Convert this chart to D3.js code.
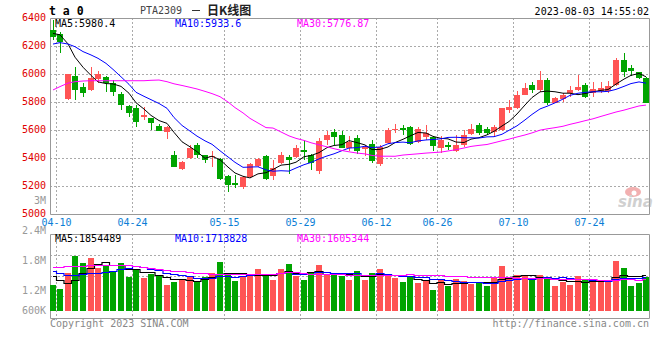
<!DOCTYPE html>
<html>
<head>
<meta charset="utf-8">
<script src="https://cdn.jsdelivr.net/npm/d3@7/dist/d3.min.js"></script>
<style>
body { margin: 0; background: #fff; }
text { font-family: "DejaVu Sans Mono", monospace; font-size: 10px; }
</style>
</head>
<body>
<div id="container"></div>
<script>
/* DATA */
const tickDates = ["04-10", "04-24", "05-15", "05-29", "06-12", "06-26", "07-10", "07-24"];
const tickIdx = [0, 10, 22, 32, 42, 50, 60, 70];

const open = [6314,6286,5819,5986,5909,5886,5962,5981,5938,5857,5771,5755,5696,5683,5628,5588,
  5421,5319,5398,5493,5421,5405,5393,5271,5219,5195,5267,5343,5414,5274,
  5367,5409,5405,5457,5421,5309,
  5528,5588,5564,5474,5540,5464,5500,5357,5509,5600,5612,5624,5516,5548,5548,5469,5493,5452,5493,5571,
  5636,5605,5588,5600,5743,5755,5850,5921,5886,5957,5795,5819,5867,5886,5921,5867,5881,5881,5921,6100,6040,6012,5974];
const high = [6386,6300,6000,6052,5933,6052,6024,5985,5957,5874,5779,5779,5762,5688,5640,5630,
  5452,5380,5493,5505,5425,5452,5400,5280,5279,5275,5365,5400,5420,5386,
  5445,5421,5493,5528,5430,5540,
  5595,5607,5595,5557,5564,5493,5528,5490,5612,5643,5636,5628,5624,5636,5557,5557,5517,5564,5600,5643,
  5652,5624,5636,5760,5814,5881,5938,5945,6021,5969,5838,5867,5917,5993,5933,5940,5945,5952,6112,6148,6064,6017,5980];
const low = [6243,6148,5815,5814,5833,5880,5933,5874,5843,5743,5695,5624,5671,5600,5590,5533,
  5333,5315,5395,5398,5362,5338,5240,5160,5183,5180,5260,5335,5240,5243,
  5360,5286,5400,5386,5314,5286,
  5493,5493,5470,5452,5429,5414,5362,5343,5500,5576,5564,5490,5510,5528,5452,5433,5457,5445,5481,5565,
  5564,5564,5553,5595,5724,5752,5848,5862,5874,5779,5790,5802,5838,5881,5826,5838,5862,5867,5914,5981,5986,5962,5790];
const close = [6262,6229,5998,5886,5867,5969,5998,5938,5874,5779,5724,5660,5710,5648,5595,5624,
  5338,5374,5469,5421,5386,5414,5248,5207,5210,5267,5357,5393,5248,5326,
  5421,5386,5469,5445,5367,5524,
  5564,5548,5474,5512,5452,5481,5381,5481,5600,5607,5600,5498,5607,5581,5486,5529,5481,5493,5564,5607,
  5581,5581,5619,5755,5767,5850,5902,5886,5957,5795,5826,5850,5886,5905,5833,5890,5902,5914,6100,6012,6024,5969,5795];
const volume = [1350000,1140000,1970000,2860000,2510000,2750000,2230000,2370000,2030000,2510000,
  1770000,2150000,1710000,1920000,1830000,1350000,1520000,1660000,1800000,1560000,
  1770000,1970000,2550000,1970000,1570000,1750000,1890000,2180000,1920000,1630000,
  2180000,2440000,1800000,1630000,2030000,2390000,1890000,1890000,1800000,
  1630000,2100000,1630000,1970000,2200000,1840000,1710000,1510000,1750000,1450000,
  1540000,1110000,1630000,1320000,1680000,1580000,1420000,1450000,1320000,1710000,
  2350000,1710000,1890000,1800000,1630000,1890000,1660000,1320000,1490000,1370000,
  1840000,1630000,1540000,1490000,1540000,2610000,2230000,1320000,1450000,1770000];

// moving averages before enough days are shown
const ma5Head = [6290, 6280, 6215, 6120];
const ma10Head = [6214, 6224, 6214, 6195, 6160, 6136, 6112, 6076, 6033];
const ma30Head = [5886, 5910, 5935, 5945, 5950, 5952, 5952, 5952, 5952, 5952, 5952, 5952, 5952, 5955, 5957,
  5945, 5930, 5918, 5905, 5893, 5876, 5860, 5838, 5800, 5760, 5722, 5683, 5650, 5617];
const volMa5Head = [1800000, 1620000, 1450000, 1620000];
const volMa10Head = [2060000, 1950000, 1890000, 1890000, 1900000, 1950000, 2000000, 2050000, 2100000];
const volMa30Head = [2300000, 2310000, 2320000, 2330000, 2350000, 2370000, 2390000, 2390000, 2390000, 2390000,
  2370000, 2330000, 2270000, 2220000, 2170000, 2130000, 2100000, 2070000, 2040000, 2000000,
  1980000, 1930000, 1920000, 1920000, 1910000, 1910000, 1900000, 1900000, 1900000];

const priceTicks = [6400, 6200, 6000, 5800, 5600, 5400, 5200, 5000];
const volLabels = [["3M", 204], ["2.4M", 234], ["1.8M", 263.5], ["1.2M", 294], ["600K", 314]];
const mainLegend = ["MA5:5980.4", "MA10:5933.6", "MA30:5776.87"];
const volLegend = ["MA5:1854489", "MA10:1713828", "MA30:1605344"];

/* CONSTANTS */
const width = 660, height = 360;
const left = 50, right = 649.5;
const main = { top: 18, bottom: 214 };
const vol = { top: 234, base: 311, bottom: 318 };
const RED = "#ff5454", GREEN = "#00a400", GRID = "#aaa", AXIS = "#999";
const maColors = ["#000", "#0000ff", "#ff00ff"];

function movAvg(vals, n, head) {
  return vals.map((v, i) => i < n - 1 ? head[i] : d3.mean(vals.slice(i - n + 1, i + 1)));
}
const ma5 = movAvg(close, 5, ma5Head), ma10 = movAvg(close, 10, ma10Head), ma30 = movAvg(close, 30, ma30Head);
const vma5 = movAvg(volume, 5, volMa5Head), vma10 = movAvg(volume, 10, volMa10Head), vma30 = movAvg(volume, 30, volMa30Head);

/* SCALES */
const idx = d3.range(close.length);
const xScale = d3.scaleBand().domain(idx).range([49.5, 649.5]).paddingInner(0.2);
const bw = 6;
const cx = k => Math.round(xScale(k)) + bw / 2;
const gx = k => Math.round(xScale(k) + xScale.step() - (xScale.step() - xScale.bandwidth()) / 2) + 0.5;
const yScale = d3.scaleLinear().domain([5000, 6400]).range([main.bottom, main.top]);
const vScale = d3.scaleLinear().domain([0, 4000000]).range([vol.base, vol.top]);

/* SVG */
const svg = d3.select("#container").append("svg")
  .attr("width", width).attr("height", height);

// horizontal grid
svg.append("g").selectAll("line")
  .data(priceTicks.filter(p => p > 5000 && p < 6400))
  .join("line")
  .attr("x1", left).attr("x2", right)
  .attr("y1", d => Math.round(yScale(d)) + 0.5).attr("y2", d => Math.round(yScale(d)) + 0.5)
  .attr("stroke", GRID).attr("stroke-dasharray", "2,2");

svg.append("g").selectAll("line")
  .data([255, 275.5, 295.5])
  .join("line")
  .attr("x1", left).attr("x2", right)
  .attr("y1", d => Math.round(d) + 0.5).attr("y2", d => Math.round(d) + 0.5)
  .attr("stroke", GRID).attr("stroke-dasharray", "2,2");

// vertical grid through both panels
const vg = svg.append("g");
vg.selectAll(".vm").data(tickIdx).join("line").attr("class", "vm")
  .attr("x1", gx).attr("x2", gx).attr("y1", main.top).attr("y2", main.bottom)
  .attr("stroke", GRID).attr("stroke-dasharray", "2,2");
vg.selectAll(".vv").data(tickIdx).join("line").attr("class", "vv")
  .attr("x1", gx).attr("x2", gx).attr("y1", vol.top).attr("y2", vol.bottom + 4)
  .attr("stroke", GRID).attr("stroke-dasharray", "2,2");

// frames
const frame = svg.append("g").attr("fill", "none").attr("stroke", AXIS);
frame.append("path").attr("d", `M${left + 0.5},${main.top + 0.5}V${main.bottom + 0.5}H${right}V${main.top + 0.5}Z`);
frame.append("path").attr("d", `M${left + 0.5},${vol.top + 0.5}H${right}V${vol.bottom + 0.5}H${left + 0.5}Z`);

// candles
const candles = svg.append("g").attr("shape-rendering", "crispEdges");
candles.selectAll(".wick").data(idx).join("rect").attr("class", "wick")
  .attr("x", k => cx(k) - 0.5).attr("width", 1)
  .attr("y", k => yScale(high[k])).attr("height", k => Math.max(1, yScale(low[k]) - yScale(high[k])))
  .attr("fill", k => close[k] >= open[k] ? RED : GREEN);
candles.selectAll(".body").data(idx).join("rect").attr("class", "body")
  .attr("x", k => cx(k) - bw / 2).attr("width", bw)
  .attr("y", k => yScale(Math.max(open[k], close[k])))
  .attr("height", k => Math.max(1.2, Math.abs(yScale(open[k]) - yScale(close[k]))))
  .attr("fill", k => close[k] >= open[k] ? RED : GREEN);

// price MAs
[ma5, ma10, ma30].forEach((m, i) => {
  svg.append("path")
    .attr("d", d3.line().x((d, k) => cx(k)).y(d => yScale(d))(m))
    .attr("fill", "none").attr("stroke", maColors[i]).attr("stroke-width", 1);
});

// volume bars
svg.append("g").attr("shape-rendering", "crispEdges")
  .selectAll("rect").data(idx).join("rect")
  .attr("x", k => cx(k) - bw / 2).attr("width", bw)
  .attr("y", k => vScale(volume[k])).attr("height", k => vol.base - vScale(volume[k]))
  .attr("fill", k => close[k] >= open[k] ? RED : GREEN);

// volume MAs
[vma5, vma10, vma30].forEach((m, i) => {
  svg.append("path")
    .attr("d", d3.line().curve(d3.curveStep).x((d, k) => cx(k)).y(d => Math.round(vScale(d)) + 0.5)(m))
    .attr("fill", "none").attr("stroke", maColors[i]).attr("stroke-width", 1.2);
});

/* TEXT */
svg.append("g").selectAll("text").data(priceTicks).join("text")
  .attr("x", 46).attr("y", d => yScale(d) + 2.5).attr("text-anchor", "end")
  .attr("fill", "#e00000").text(d => d);

svg.append("g").selectAll("text").data(volLabels).join("text")
  .attr("x", 46).attr("y", d => d[1]).attr("text-anchor", "end")
  .attr("fill", "#999").text(d => d[0]);

svg.append("g").selectAll("text").data(tickIdx).join("text")
  .attr("x", gx).attr("y", 225.5).attr("text-anchor", "middle")
  .attr("fill", "#0a7ed6").text((d, i) => tickDates[i]);

const legendX = [55, 175, 297];
svg.append("g").selectAll("text").data(mainLegend).join("text")
  .attr("x", (d, i) => legendX[i]).attr("y", 27).attr("fill", (d, i) => maColors[i]).text(d => d);
svg.append("g").selectAll("text").data(volLegend).join("text")
  .attr("x", (d, i) => legendX[i]).attr("y", 242).attr("fill", (d, i) => maColors[i]).text(d => d);

// header
svg.append("text").attr("x", 49).attr("y", 15)
  .style("font-size", "11.5px").style("font-weight", "bold").attr("xml:space", "preserve")
  .text("t a 0");
svg.append("text").attr("x", 140).attr("y", 14).attr("fill", "#444").text("PTA2309");
svg.append("line").attr("x1", 192).attr("x2", 200).attr("y1", 10.5).attr("y2", 10.5)
  .attr("stroke", "#333").attr("stroke-width", 1);
svg.append("text").attr("x", 207).attr("y", 15)
  .style("font-family", "'Noto Sans CJK SC'").style("font-size", "12px").style("font-weight", "bold")
  .attr("fill", "#222").text("日K线图");
svg.append("text").attr("x", 649).attr("y", 15).attr("text-anchor", "end").text("2023-08-03 14:55:02");

// footer
svg.append("text").attr("x", 50).attr("y", 327).attr("fill", "#888").text("Copyright 2023 SINA.COM");
svg.append("text").attr("x", 649).attr("y", 327).attr("text-anchor", "end").attr("fill", "#888")
  .text("http://finance.sina.com.cn");

// sina watermark
const logo = svg.append("g").attr("opacity", 0.55);
logo.append("ellipse").attr("cx", 633).attr("cy", 192).attr("rx", 8).attr("ry", 5).attr("fill", "#e87070");
logo.append("circle").attr("cx", 634).attr("cy", 193).attr("r", 2.5).attr("fill", "#fff");
logo.append("text").attr("x", 618).attr("y", 207)
  .style("font-family", "'DejaVu Sans'").style("font-size", "15px").style("font-weight", "bold")
  .style("font-style", "italic").attr("fill", "#aaa").text("sina");
</script>
</body>
</html>
